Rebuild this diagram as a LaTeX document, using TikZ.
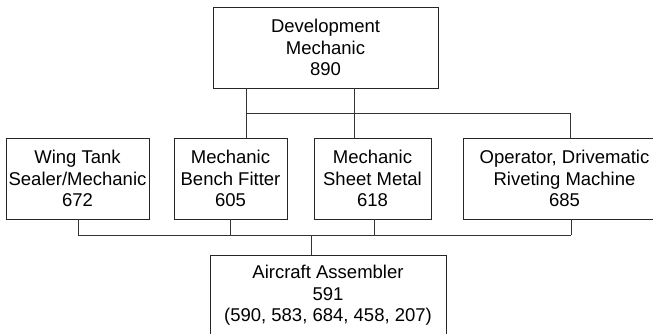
\documentclass[tikz,border=0pt]{standalone}
\usepackage{fontspec}
\setmainfont{Liberation Sans}
\begin{document}
\begin{tikzpicture}[x=1pt,y=-1pt,
  job/.style={draw=black!85, line width=0.8pt, align=center, inner sep=0pt,
    minimum height=81pt, font=\fontsize{18.5}{21.5}\selectfont},
  link/.style={draw=black!80, line width=0.8pt}]
  \clip (0,0) rectangle (653,333);

  % jobs
  \node[job, minimum width=225pt] (dev) at (325.5,47.5) {Development\\Mechanic\\890};
  \node[job, minimum width=143pt] (wing) at (77.5,178.5) {Wing Tank\\Sealer/Mechanic\\672};
  \node[job, minimum width=113pt] (bench) at (230.5,178.5) {Mechanic\\Bench Fitter\\605};
  \node[job, minimum width=117pt] (sheet) at (372.5,178.5) {Mechanic\\Sheet Metal\\618};
  \node[job, minimum width=203pt] (oper) at (564.5,178.5) {Operator, Drivematic\\Riveting Machine\\685};
  \node[job, minimum width=236pt] (asm) at (328,295.5) {Aircraft Assembler\\591\\(590, 583, 684, 458, 207)};

  % upper bus
  \coordinate (topl) at (246,113);
  \coordinate (topm) at (354,113);
  \coordinate (topr) at (570,113);
  \draw[link] (dev.south -| topl) -- (bench.north -| topl);
  \draw[link] (dev.south -| topm) -- (sheet.north -| topm);
  \draw[link] (topl) -- (topr) -- (oper.north -| topr);

  % lower bus
  \coordinate (botl) at (78,235);
  \coordinate (botr) at (571,235);
  \coordinate (botm) at (311,235);
  \foreach \name/\x in {wing/78, bench/230, sheet/374, oper/571}{
    \draw[link] (\name.south -| \x,235) -- (\x,235);
  }
  \draw[link] (botl) -- (botr);
  \draw[link] (botm) -- (asm.north -| botm);
\end{tikzpicture}
\end{document}
